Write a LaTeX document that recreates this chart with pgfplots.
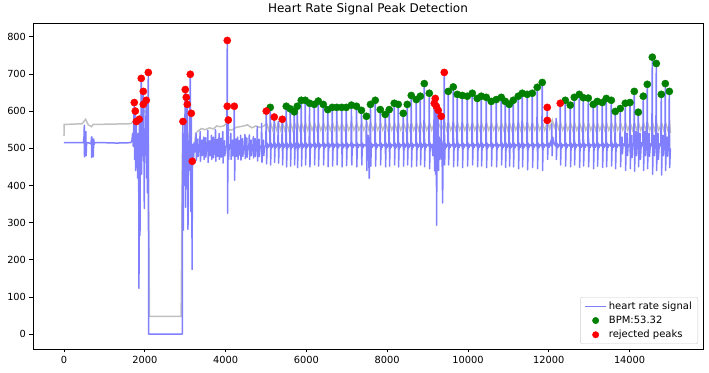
\documentclass[border=0pt]{standalone}
\usepackage{fontspec}
\setmainfont{DejaVu Sans}
\usepackage{pgfplots}
\pgfplotsset{compat=1.18}
\usetikzlibrary{calc}
\definecolor{sigblue}{RGB}{128,128,255}
\definecolor{rollgray}{RGB}{192,192,192}
\definecolor{pkgreen}{RGB}{0,128,0}
\definecolor{pkred}{RGB}{255,0,0}
\definecolor{legedge}{RGB}{204,204,204}
\pgfplotsset{
  linelegend/.style={legend image code/.code={\draw[##1, line width=1.5pt] (0pt,0pt) -- (21pt,0pt);}},
  dotlegend/.style={legend image code/.code={\draw[##1, mark size=3.2pt] plot coordinates {(10.5pt,0pt)};}},
}
\begin{document}
\begin{tikzpicture}
\begin{axis}[
 scale only axis, width=670pt, height=326pt,
 xmin=-767, xmax=15817, ymin=-40, ymax=837,
 xtick={0,2000,...,14000}, ytick={0,100,...,800},
 minor tick num=0,
 xtick pos=bottom, ytick pos=left,
 tick align=outside, major tick length=3.5pt,
 tick style={black, line width=0.6pt},
 axis line style={line width=0.6pt},
 /pgf/number format/assume math mode=true,
 /pgf/number format/1000 sep={},
 scaled x ticks=false,
 ticklabel style={font=\fontsize{9.8}{11}\selectfont},
 title={Heart Rate Signal Peak Detection},
 title style={font=\fontsize{12}{14}\selectfont, yshift=-2pt},
 legend cell align=left,
 legend style={at={(1,0)}, anchor=south east, xshift=-5pt, yshift=5pt,
   draw=legedge, rounded corners=2pt, font=\fontsize{10}{12}\selectfont,
   row sep=1.2pt, inner xsep=4pt, inner ysep=2.5pt},
]
% rolling mean
\addplot[rollgray, line width=1.5pt, forget plot] coordinates {
(0,533) (5,564) (450,566) (536,578) (600,563) (685,558) (720,564) (1650,566)
(1700,570) (1800,580) (1900,590) (2000,600) (2080,590) (2100,300) (2115,48)
(2900,48) (2930,480) (3000,560) (3100,530) (3190,462) (3260,540) (3300,545)
(3400,553) (3500,550) (3600,555) (3700,552) (3780,560) (3860,558) (3950,560)
(4025,567) (4080,549) (4180,550) (4250,556) (4350,558) (4450,560) (4540,563)
(4650,555) (4750,560) (4850,556) (4950,560)
(5017,567) (5067,549) (5116,567) (5166,549) (5215,567) (5265,549) (5314,567) (5364,549)
(5413,567) (5463,549) (5512,567) (5562,549) (5611,567) (5661,549) (5710,567) (5760,549)
(5784,567) (5834,549) (5883,567) (5933,549) (5982,567) (6032,549) (6090,567) (6140,549)
(6205,567) (6255,549) (6304,567) (6354,549) (6428,567) (6478,549) (6540,567) (6590,549)
(6651,567) (6701,549) (6762,567) (6812,549) (6885,567) (6935,549) (6997,567) (7047,549)
(7125,567) (7175,549) (7250,567) (7300,549) (7373,567) (7423,549) (7497,567) (7547,549)
(7596,567) (7646,549) (7715,567) (7765,549) (7839,567) (7889,549) (7962,567) (8012,549)
(8061,567) (8111,549) (8185,567) (8235,549) (8284,567) (8334,549) (8408,567) (8458,549)
(8507,567) (8557,549) (8606,567) (8656,549) (8730,567) (8780,549) (8829,567) (8879,549)
(8928,567) (8978,549) (9052,567) (9102,549) (9175,570) (9225,545) (9280,565) (9340,550)
(9423,568) (9472,549) (9522,567) (9572,549) (9646,567) (9696,549) (9745,567) (9795,549)
(9868,567) (9918,549) (9992,567) (10042,549) (10116,567) (10166,549) (10240,567) (10290,549)
(10339,567) (10389,549) (10462,567) (10512,549) (10586,567) (10636,549) (10710,567) (10760,549)
(10834,567) (10884,549) (10933,567) (10983,549) (11031,567) (11081,549) (11130,567) (11180,549)
(11254,567) (11304,549) (11353,567) (11403,549) (11477,567) (11527,549) (11601,567) (11651,549)
(11724,567) (11774,549) (11848,567) (11898,549) (11972,570) (12022,552) (12085,576) (12135,556)
(12190,572) (12240,552) (12294,567) (12344,549) (12418,567) (12468,549) (12542,567) (12592,549)
(12641,567) (12691,549) (12765,567) (12815,549) (12864,567) (12914,549) (12988,567) (13038,549)
(13111,567) (13161,549) (13210,567) (13260,549) (13334,567) (13384,549) (13433,567) (13483,549)
(13557,567) (13607,549) (13656,567) (13706,549) (13780,567) (13830,549) (13904,567) (13954,549)
(14020,567) (14070,549) (14126,567) (14176,549) (14225,567) (14275,549) (14349,567) (14399,549)
(14448,567) (14498,549) (14572,567) (14622,549) (14671,567) (14721,549) (14795,567) (14845,549)
(14894,567) (14944,549) (14993,567) (15010,540)
};
% heart rate signal
\addplot[sigblue, line width=1.5pt, line join=round, linelegend] coordinates {
(0,515) (480,515) (495,530) (503,562) (508,477) (515,520) (525,505) (540,545) (548,480)
(560,515) (600,515) (670,512) (680,530) (685,475) (692,531) (700,500) (710,520) (718,490)
(726,477) (735,525) (745,510) (760,515) (1000,515) (1300,514) (1650,515)
(1680,520) (1700,540) (1715,505) (1725,560) (1740,623) (1748,470) (1758,540) (1765,600)
(1772,440) (1782,520) (1790,572) (1800,480) (1812,530) (1822,420) (1835,540) (1848,500)
(1856,123) (1864,578) (1872,400) (1881,265) (1890,520) (1900,480) (1913,688) (1922,430)
(1932,560) (1945,480) (1963,653) (1968,520) (1975,618) (1982,420) (1988,338) (1996,540)
(2010,480) (2025,560) (2037,629) (2045,420) (2055,520) (2065,380) (2075,540) (2087,704)
(2095,0) (2928,0)
(2935,520) (2945,572) (2952,280) (2962,520) (2975,400) (2990,540) (3002,658) (3012,341)
(3020,560) (3027,637) (3038,420) (3052,618) (3060,450) (3069,282) (3080,520) (3095,440)
(3110,560) (3126,699) (3138,330) (3151,594) (3162,420) (3172,174) (3178,465) (3192,510)
(3205,470) (3220,515) (3240,490)
(3258,500) (3270,540) (3278,468) (3292,510) (3315,525) (3322,478) (3340,505)
(3358,500) (3370,545) (3378,465) (3392,510) (3415,522) (3422,480) (3440,505)
(3448,500) (3460,530) (3468,470) (3482,510) (3505,528) (3512,476) (3530,505)
(3548,500) (3560,548) (3568,462) (3582,510) (3605,520) (3612,480) (3630,505)
(3638,500) (3650,535) (3658,470) (3672,510) (3695,530) (3702,475) (3720,505)
(3738,500) (3750,550) (3758,465) (3772,510) (3795,524) (3802,478) (3820,505)
(3828,500) (3840,540) (3848,470) (3862,510) (3885,527) (3892,476) (3910,505)
(3918,500) (3930,545) (3938,460) (3952,510) (3975,520) (3982,480) (4000,505)
(4030,505) (4042,790) (4050,325) (4058,520) (4067,576) (4075,470) (4090,510)
(4118,500) (4130,540) (4138,470) (4152,510) (4175,522) (4182,480) (4200,505)
(4207,505) (4215,613) (4223,414) (4237,510) (4260,525) (4267,478) (4285,505)
(4290,500) (4300,530) (4308,470) (4322,510) (4340,520) (4348,482) (4362,505)
(4365,500) (4373,535) (4381,468) (4395,510) (4420,526) (4427,478) (4445,505)
(4468,500) (4480,537) (4488,472) (4502,510) (4525,528) (4532,476) (4550,505)
(4575,500) (4587,536) (4595,470) (4609,510) (4632,522) (4639,480) (4657,505)
(4674,500) (4686,531) (4694,474) (4708,510) (4731,526) (4738,478) (4756,505)
(4773,500) (4785,558) (4793,466) (4807,510) (4830,524) (4837,478) (4855,505)
(4881,500) (4893,567) (4901,462) (4915,510) (4938,522) (4945,480) (4963,505)
(4995,506) (5007,600) (5015,458) (5029,514) (5052,502) (5069,510)
(5094,506) (5106,610) (5114,455) (5128,514) (5151,502) (5168,510)
(5193,506) (5205,584) (5213,462) (5227,514) (5250,502) (5267,510)
(5292,506) (5304,572) (5312,460) (5326,514) (5349,502) (5366,510)
(5391,506) (5403,578) (5411,455) (5425,514) (5448,502) (5465,510)
(5490,506) (5502,613) (5510,450) (5524,514) (5547,502) (5564,510)
(5589,506) (5601,606) (5609,452) (5623,514) (5646,502) (5663,510)
(5688,506) (5700,598) (5708,455) (5722,514) (5745,502)
(5762,506) (5774,613) (5782,448) (5796,514) (5819,502) (5836,510)
(5861,506) (5873,629) (5881,452) (5895,514) (5918,502) (5935,510)
(5960,506) (5972,629) (5980,455) (5994,514) (6017,502) (6034,510)
(6068,506) (6080,621) (6088,450) (6102,514) (6125,502) (6142,510)
(6183,506) (6195,618) (6203,455) (6217,514) (6240,502) (6257,510)
(6282,506) (6294,627) (6302,452) (6316,514) (6339,502) (6356,510)
(6406,506) (6418,618) (6426,455) (6440,514) (6463,502) (6480,510)
(6518,506) (6530,604) (6538,450) (6552,514) (6575,502) (6592,510)
(6629,506) (6641,610) (6649,452) (6663,514) (6686,502) (6703,510)
(6740,506) (6752,610) (6760,455) (6774,514) (6797,502) (6814,510)
(6863,506) (6875,610) (6883,450) (6897,514) (6920,502) (6937,510)
(6975,506) (6987,610) (6995,453) (7009,514) (7032,502) (7049,510)
(7103,506) (7115,616) (7123,455) (7137,514) (7160,502) (7177,510)
(7228,506) (7240,613) (7248,450) (7262,514) (7285,502) (7302,510)
(7351,506) (7363,602) (7371,455) (7385,514) (7408,502) (7425,510)
(7475,506) (7487,586) (7495,440) (7509,514) (7530,535) (7556,419) (7566,520)
(7574,506) (7586,618) (7594,452) (7608,514) (7631,502) (7648,510)
(7693,506) (7705,629) (7713,452) (7727,514) (7750,502) (7767,510)
(7817,506) (7829,604) (7837,455) (7851,514) (7874,502) (7891,510)
(7940,506) (7952,591) (7960,450) (7974,514) (7997,502) (8014,510)
(8039,506) (8051,604) (8059,452) (8073,514) (8096,502) (8113,510)
(8163,506) (8175,621) (8183,455) (8197,514) (8220,502) (8237,510)
(8262,506) (8274,618) (8282,450) (8296,514) (8319,502) (8336,510)
(8386,506) (8398,594) (8406,452) (8420,514) (8443,502) (8460,510)
(8485,506) (8497,618) (8505,455) (8519,514) (8542,502) (8559,510)
(8584,506) (8596,642) (8604,450) (8618,514) (8641,502) (8658,510)
(8708,506) (8720,631) (8728,452) (8742,514) (8765,502) (8782,510)
(8807,506) (8819,640) (8827,455) (8841,514) (8864,502) (8881,510)
(8906,506) (8918,674) (8926,450) (8940,514) (8963,502) (8980,510)
(9030,506) (9042,648) (9050,445) (9064,514) (9087,502)
(9110,510) (9130,480) (9150,520) (9165,621) (9172,440) (9182,560) (9190,634) (9198,430)
(9207,560) (9215,613) (9223,293) (9232,520) (9245,460) (9255,540) (9264,602) (9272,440)
(9285,530) (9300,470) (9315,525) (9330,500) (9338,586) (9346,470) (9356,520) (9372,353)
(9385,510) (9400,500) (9413,704) (9421,455) (9435,514) (9458,502) (9475,510)
(9500,506) (9512,653) (9520,455) (9534,514) (9557,502) (9574,510)
(9624,506) (9636,665) (9644,450) (9658,514) (9681,502) (9698,510)
(9723,506) (9735,645) (9743,452) (9757,514) (9780,502) (9797,510)
(9846,506) (9858,642) (9866,448) (9880,514) (9903,502) (9920,510)
(9970,506) (9982,640) (9990,452) (10004,514) (10027,502) (10044,510)
(10094,506) (10106,648) (10114,455) (10128,514) (10151,502) (10168,510)
(10218,506) (10230,634) (10238,450) (10252,514) (10275,502) (10292,510)
(10317,506) (10329,640) (10337,452) (10351,514) (10374,502) (10391,510)
(10440,506) (10452,637) (10460,448) (10474,514) (10497,502) (10514,510)
(10564,506) (10576,626) (10584,452) (10598,514) (10621,502) (10638,510)
(10688,506) (10700,631) (10708,450) (10722,514) (10745,502) (10762,510)
(10812,506) (10824,637) (10832,455) (10846,514) (10869,502) (10886,510)
(10911,506) (10923,626) (10931,448) (10945,514) (10968,502) (10985,510)
(11009,506) (11021,618) (11029,452) (11043,514) (11066,502) (11083,510)
(11108,506) (11120,629) (11128,450) (11142,514) (11165,502) (11182,510)
(11232,506) (11244,640) (11252,445) (11266,514) (11289,502) (11306,510)
(11331,506) (11343,648) (11351,450) (11365,514) (11388,502) (11405,510)
(11455,506) (11467,645) (11475,442) (11489,514) (11512,502) (11529,510)
(11579,506) (11591,648) (11599,448) (11613,514) (11636,502) (11653,510)
(11702,506) (11714,664) (11722,445) (11736,514) (11759,502) (11776,510)
(11826,506) (11838,677) (11846,440) (11860,514) (11883,502) (11900,510)
(11950,506) (11962,610) (11970,470) (11984,514) (12007,502) (12024,510)
(12050,520) (12063,506) (12075,565) (12083,480) (12097,530) (12120,515) (12137,512)
(12168,506) (12180,580) (12188,470) (12202,514) (12225,502) (12242,510)
(12272,506) (12284,621) (12292,455) (12306,514) (12329,502) (12346,510)
(12396,506) (12408,629) (12416,452) (12430,514) (12453,502) (12470,510)
(12520,506) (12532,616) (12540,450) (12554,514) (12577,502) (12594,510)
(12619,506) (12631,637) (12639,455) (12653,514) (12676,502) (12693,510)
(12743,506) (12755,645) (12763,448) (12777,514) (12800,502) (12817,510)
(12842,506) (12854,636) (12862,452) (12876,514) (12899,502) (12916,510)
(12966,506) (12978,635) (12986,450) (13000,514) (13023,502) (13040,510)
(13089,506) (13101,618) (13109,445) (13123,514) (13146,502) (13163,510)
(13188,506) (13200,626) (13208,452) (13222,514) (13245,502) (13262,510)
(13312,506) (13324,623) (13332,448) (13346,514) (13369,502) (13386,510)
(13411,506) (13423,634) (13431,450) (13445,514) (13468,502) (13485,510)
(13535,506) (13547,629) (13555,452) (13569,514) (13592,502) (13609,510)
(13634,506) (13646,599) (13654,445) (13668,514) (13691,502) (13708,510)
(13758,506) (13770,607) (13778,450) (13792,514) (13815,530) (13822,485) (13840,512)
(13882,506) (13894,621) (13902,440) (13916,520) (13940,540) (13948,480) (13965,510)
(13998,506) (14010,623) (14018,445) (14032,520) (14055,535) (14062,475) (14080,512)
(14104,506) (14116,653) (14124,438) (14138,520) (14160,545) (14168,480) (14185,512)
(14203,506) (14215,597) (14223,450) (14237,520) (14260,540) (14268,470) (14290,515)
(14327,506) (14339,640) (14347,440) (14361,520) (14385,545) (14392,480) (14410,512)
(14426,506) (14438,672) (14446,445) (14460,520) (14485,540) (14492,478) (14515,512)
(14550,506) (14562,745) (14570,430) (14584,520) (14605,535) (14612,480) (14630,512)
(14649,506) (14661,728) (14669,440) (14683,520) (14705,540) (14712,470) (14735,512)
(14773,506) (14785,645) (14793,428) (14807,520) (14830,535) (14837,480) (14855,512)
(14872,506) (14884,674) (14892,440) (14906,520) (14930,530) (14937,478) (14955,512)
(14971,506) (14983,653) (14991,448) (15010,500)
};
\addlegendentry{heart rate signal}
% accepted peaks
\addplot[only marks, mark=*, mark size=3.6pt, color=pkgreen, mark options={draw=pkgreen, fill=pkgreen}, dotlegend] coordinates {
(5106,610) (5502,613) (5601,606) (5700,598) (5774,613) (5873,629) (5972,629) (6080,621)
(6195,618) (6294,627) (6418,618) (6530,604) (6641,610) (6752,610) (6875,610) (6987,610)
(7115,616) (7240,613) (7363,602) (7487,586) (7586,618) (7705,629) (7829,604) (7952,591)
(8051,604) (8175,621) (8274,618) (8398,594) (8497,618) (8596,642) (8720,631) (8819,640)
(8918,674) (9042,648) (9512,653) (9636,665) (9735,645) (9858,642) (9982,640) (10106,648)
(10230,634) (10329,640) (10452,637) (10576,626) (10700,631) (10824,637) (10923,626)
(11021,618) (11120,629) (11244,640) (11343,648) (11467,645) (11591,648) (11714,664)
(11838,677) (12408,629) (12532,616) (12631,637) (12755,645) (12854,636) (12978,635)
(13101,618) (13200,626) (13324,623) (13423,634) (13547,629) (13646,599) (13770,607)
(13894,621) (14010,623) (14116,653) (14215,597) (14339,640) (14438,672) (14562,745)
(14661,728) (14785,645) (14884,674) (14983,653)
};
\addlegendentry{BPM:53.32}
% rejected peaks
\addplot[only marks, mark=*, mark size=3.6pt, color=pkred, mark options={draw=pkred, fill=pkred}, dotlegend] coordinates {
(1740,623) (1765,600) (1790,572) (1864,578) (1913,688) (1963,653) (1963,618) (2037,629)
(2087,704) (2945,572) (3002,658) (3027,637) (3052,618) (3126,699) (3151,594) (3176,465)
(4042,790) (4042,613) (4067,576) (4215,613) (5007,600) (5205,584) (5403,578)
(9165,621) (9190,634) (9215,613) (9264,602) (9338,586) (9413,704)
(11962,610) (11962,575) (12284,621)
};
\addlegendentry{rejected peaks}
\end{axis}
\pgfresetboundingbox
\path ($(current axis.south west)+(-33pt,-24pt)$) rectangle ($(current axis.north east)+(6pt,23pt)$);
\end{tikzpicture}
\end{document}
